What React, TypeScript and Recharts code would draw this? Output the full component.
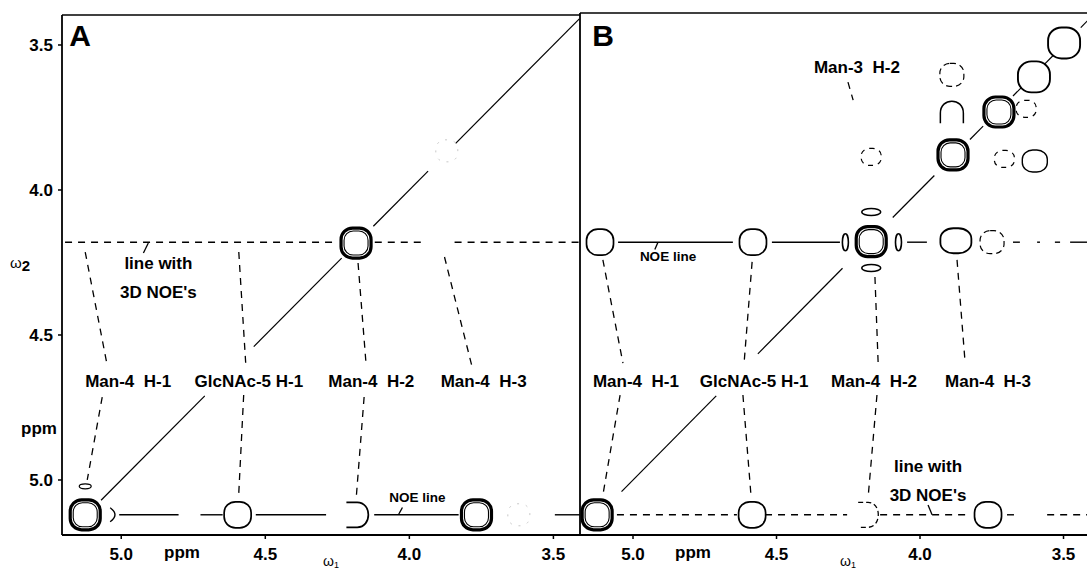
import React from 'react';
import { ScatterChart, Scatter, XAxis, YAxis, ReferenceLine } from 'recharts';

const FONT = '"Liberation Sans", Arial, Helvetica, sans-serif';

// ---------- shared tick values (ppm) ----------
const X_TICKS = [5.0, 4.5, 4.0, 3.5];
const Y_TICKS = [3.5, 4.0, 4.5, 5.0];

// ---------- Panel A ----------
const A_PEAKS = [
  { x: 5.125, y: 5.12, kind: 'bold' },
  { x: 4.596, y: 5.12, kind: 'normal' },
  { x: 4.185, y: 4.183, kind: 'bold' },
  { x: 4.181, y: 5.12, kind: 'half' },
  { x: 3.767, y: 5.12, kind: 'bold' },
  { x: 5.028, y: 5.12, kind: 'arcR' },
  { x: 5.125, y: 5.022, kind: 'small' },
  { x: 3.62, y: 5.12, kind: 'faint' },
  { x: 3.87, y: 3.865, kind: 'faint' },
];
const A_DIAG = [[5.07, 4.71], [4.54, 4.235], [4.125, 3.935], [3.86, 3.41]];
const A_SOLID_Y = 5.12;
const A_SOLID = [[5.007, 4.801], [4.725, 4.648], [4.533, 4.289], [4.122, 3.829], [3.495, 3.408]];
const A_DASH_Y = 4.18;
const A_DASH = [[5.195, 4.26], [4.12, 3.948], [3.843, 3.41]];
const A_CONNECT = [
  [5.125, 4.214, 5.049, 4.603],
  [5.066, 4.714, 5.118, 5.0],
  [4.592, 4.214, 4.568, 4.597],
  [4.575, 4.707, 4.592, 5.045],
  [4.178, 4.252, 4.15, 4.603],
  [4.157, 4.714, 4.185, 5.069],
  [3.878, 4.231, 3.784, 4.603],
];
const A_POINTERS = [[4.906, 4.183, 4.923, 4.217], [4.038, 5.12, 4.024, 5.095]];
const A_LABELS = [
  { x: 5.143, y: 3.466, text: 'A', kind: 'panel' },
  { x: 4.871, y: 4.252, text: 'line with', kind: 'label' },
  { x: 4.871, y: 4.352, text: "3D NOE's", kind: 'label' },
  { x: 4.976, y: 4.659, text: 'Man-4  H-1', kind: 'label' },
  { x: 4.557, y: 4.659, text: 'GlcNAc-5 H-1', kind: 'label' },
  { x: 4.132, y: 4.659, text: 'Man-4  H-2', kind: 'label' },
  { x: 3.742, y: 4.659, text: 'Man-4  H-3', kind: 'label' },
  { x: 3.972, y: 5.062, text: 'NOE line', kind: 'small' },
];

// ---------- Panel B ----------
const B_PEAKS = [
  { x: 5.125, y: 5.12, kind: 'bold' },
  { x: 4.585, y: 5.12, kind: 'normal' },
  { x: 4.181, y: 5.12, kind: 'halfDash' },
  { x: 3.763, y: 5.12, kind: 'normal' },
  { x: 5.115, y: 4.18, kind: 'normal' },
  { x: 4.582, y: 4.18, kind: 'normal' },
  { x: 4.17, y: 4.178, kind: 'bold' },
  { x: 4.26, y: 4.18, kind: 'lobeV' },
  { x: 4.075, y: 4.18, kind: 'lobeV' },
  { x: 4.17, y: 4.076, kind: 'lobeH' },
  { x: 4.17, y: 4.269, kind: 'lobeH' },
  { x: 3.875, y: 4.175, kind: 'dome' },
  { x: 3.749, y: 4.18, kind: 'ghost' },
  { x: 3.885, y: 3.879, kind: 'bold' },
  { x: 3.725, y: 3.731, kind: 'bold' },
  { x: 3.603, y: 3.61, kind: 'large' },
  { x: 3.498, y: 3.493, kind: 'large' },
  { x: 3.889, y: 3.603, kind: 'ghost' },
  { x: 3.889, y: 3.735, kind: 'arch' },
  { x: 3.63, y: 3.72, kind: 'ghostSmall' },
  { x: 4.17, y: 3.886, kind: 'ghostSmall' },
  { x: 3.706, y: 3.893, kind: 'ghostSmall' },
  { x: 3.6, y: 3.9, kind: 'thin' },
];
const B_DIAG = [[5.04, 4.71], [4.565, 4.27], [4.095, 3.95], [3.826, 3.78], [3.676, 3.634], [3.565, 3.537], [3.44, 3.408]];
const B_SOLID_Y = 4.18;
const B_SOLID = [[5.052, 4.652], [4.516, 4.279], [4.045, 3.976], [3.676, 3.652], [3.592, 3.582], [3.53, 3.512], [3.477, 3.408]];
const B_DASH_Y = 5.12;
const B_DASH = [[5.056, 4.638], [4.54, 4.254], [4.139, 3.833], [3.697, 3.669], [3.557, 3.408]];
const B_CONNECT = [
  [5.105, 4.241, 5.035, 4.597],
  [5.045, 4.707, 5.105, 5.052],
  [4.585, 4.248, 4.613, 4.597],
  [4.617, 4.707, 4.589, 5.052],
  [4.157, 4.3, 4.146, 4.593],
  [4.15, 4.707, 4.181, 5.062],
  [3.871, 4.241, 3.843, 4.593],
  [4.251, 3.628, 4.233, 3.69],
];
const B_POINTERS = [[4.913, 4.18, 4.924, 4.205], [3.972, 5.086, 3.958, 5.12]];
const B_LABELS = [
  { x: 5.1045, y: 3.466, text: 'B', kind: 'panel' },
  { x: 4.22, y: 3.579, text: 'Man-3  H-2', kind: 'label' },
  { x: 4.878, y: 4.231, text: 'NOE line', kind: 'small' },
  { x: 4.99, y: 4.659, text: 'Man-4  H-1', kind: 'label' },
  { x: 4.578, y: 4.659, text: 'GlcNAc-5 H-1', kind: 'label' },
  { x: 4.16, y: 4.659, text: 'Man-4  H-2', kind: 'label' },
  { x: 3.763, y: 4.659, text: 'Man-4  H-3', kind: 'label' },
  { x: 3.972, y: 4.952, text: 'line with', kind: 'label' },
  { x: 3.972, y: 5.052, text: "3D NOE's", kind: 'label' },
];

// ---------- styles ----------
const PEAK_STYLE: Record<string, any> = {
  bold: { w: 30, h: 30, sw: 3.2, shape: 'box2' },
  normal: { w: 27, h: 26, sw: 1.7, shape: 'box' },
  large: { w: 32, h: 31, sw: 1.9, shape: 'box' },
  dome: { w: 31, h: 25, sw: 1.8, shape: 'box' },
  thin: { w: 25, h: 22, sw: 1.4, shape: 'box' },
  ghost: { w: 24, h: 23, sw: 1.2, dash: '6 4', shape: 'box' },
  ghostSmall: { w: 20, h: 17, sw: 1.2, dash: '5 5', shape: 'box' },
  faint: { w: 22, h: 22, sw: 1, dash: '2 7', shape: 'box', color: '#c8c8c8' },
  half: { w: 24, h: 25, sw: 1.7, shape: 'halfR' },
  halfDash: { w: 22, h: 25, sw: 1.3, dash: '5 3', shape: 'halfR' },
  arch: { w: 23, h: 20, sw: 1.5, shape: 'arch' },
  lobeV: { w: 6, h: 17, sw: 1.6, shape: 'ellipse' },
  lobeH: { w: 19, h: 7, sw: 1.6, shape: 'ellipse' },
  small: { w: 12, h: 5, sw: 1.2, shape: 'ellipse' },
  arcR: { w: 6, h: 14, sw: 1.4, shape: 'arcR' },
};
const TEXT_SIZE: Record<string, number> = { panel: 30, label: 17, small: 13.5 };

const PeakMark = (p: any) => {
  const { cx, cy, payload } = p;
  if (cx == null || cy == null) return null;
  const k = PEAK_STYLE[payload.kind];
  const { w, h } = k;
  const stroke = k.color || '#000';
  const x0 = cx - w / 2;
  const y0 = cy - h / 2;
  if (k.shape === 'box') {
    return <rect x={x0} y={y0} width={w} height={h} rx={w * 0.42} ry={h * 0.42} fill="#fff" stroke={stroke} strokeWidth={k.sw} strokeDasharray={k.dash} />;
  }
  if (k.shape === 'box2') {
    return (
      <g>
        <rect x={x0} y={y0} width={w} height={h} rx={w * 0.38} ry={h * 0.38} fill="#fff" stroke={stroke} strokeWidth={k.sw} />
        <rect x={x0 + 3} y={y0 + 3} width={w - 6} height={h - 6} rx={(w - 6) * 0.38} ry={(h - 6) * 0.38} fill="none" stroke={stroke} strokeWidth={1.1} />
      </g>
    );
  }
  if (k.shape === 'halfR') {
    const d = `M ${cx - w * 0.45} ${y0} H ${cx} C ${cx + w * 0.62} ${y0} ${cx + w * 0.62} ${y0 + h} ${cx} ${y0 + h} H ${cx - w * 0.45}`;
    return <path d={d} fill="none" stroke={stroke} strokeWidth={k.sw} strokeDasharray={k.dash} />;
  }
  if (k.shape === 'arch') {
    const d = `M ${x0} ${y0 + h} V ${cy} C ${x0} ${y0 - h * 0.3} ${x0 + w} ${y0 - h * 0.3} ${x0 + w} ${cy} V ${y0 + h}`;
    return <path d={d} fill="none" stroke={stroke} strokeWidth={k.sw} />;
  }
  if (k.shape === 'arcR') {
    const d = `M ${x0} ${y0} Q ${x0 + w * 1.6} ${cy} ${x0} ${y0 + h}`;
    return <path d={d} fill="none" stroke={stroke} strokeWidth={k.sw} />;
  }
  return <ellipse cx={cx} cy={cy} rx={w / 2} ry={h / 2} fill="#fff" stroke={stroke} strokeWidth={k.sw} />;
};

const TextMark = (p: any) => {
  const { cx, cy, payload } = p;
  if (cx == null || cy == null) return null;
  return (
    <text x={cx} y={cy} textAnchor="middle" dominantBaseline="central" fontFamily={FONT}
      fontSize={TEXT_SIZE[payload.kind]} fontWeight={700} fill="#000" style={{ whiteSpace: 'pre' }}>
      {payload.text}
    </text>
  );
};

const fmt = (v: number) => v.toFixed(1);
const tickStyle = { fill: '#000', fontSize: 17, fontWeight: 700, fontFamily: FONT };

type PanelProps = {
  left: number; width: number; top: number; yWidth: number;
  xDomain: number[]; yDomain: number[]; showYTicks: boolean;
  peaks: any[]; diag: number[][]; solidY: number; solid: number[][];
  dashY: number; dash: number[][]; connect: number[][]; pointers: number[][]; labels: any[];
};

const Panel = (props: PanelProps) => {
  const { left, width, top, yWidth, xDomain, yDomain, showYTicks } = props;
  const lines: any[] = [];
  props.diag.forEach((r, i) => lines.push(
    <ReferenceLine key={'d' + i} segment={[{ x: r[0], y: r[0] }, { x: r[1], y: r[1] }]} stroke="#000" strokeWidth={1.2} ifOverflow="visible" />));
  props.solid.forEach((r, i) => lines.push(
    <ReferenceLine key={'s' + i} segment={[{ x: r[0], y: props.solidY }, { x: r[1], y: props.solidY }]} stroke="#000" strokeWidth={1.4} ifOverflow="visible" />));
  props.dash.forEach((r, i) => lines.push(
    <ReferenceLine key={'h' + i} segment={[{ x: r[0], y: props.dashY }, { x: r[1], y: props.dashY }]} stroke="#000" strokeWidth={1.4} strokeDasharray="7 6" ifOverflow="visible" />));
  props.connect.forEach((c, i) => lines.push(
    <ReferenceLine key={'c' + i} segment={[{ x: c[0], y: c[1] }, { x: c[2], y: c[3] }]} stroke="#000" strokeWidth={1.3} strokeDasharray="7 6" ifOverflow="visible" />));
  props.pointers.forEach((c, i) => lines.push(
    <ReferenceLine key={'p' + i} segment={[{ x: c[0], y: c[1] }, { x: c[2], y: c[3] }]} stroke="#000" strokeWidth={1.3} ifOverflow="visible" />));
  return (
    <div style={{ position: 'absolute', left, top: 0 }}>
      <ScatterChart width={width} height={572} margin={{ top, right: 0, bottom: 0, left: 0 }}>
        <XAxis type="number" dataKey="x" domain={xDomain} reversed allowDataOverflow ticks={X_TICKS} interval={0}
          tickFormatter={fmt} height={37} tickSize={4} tickMargin={9}
          axisLine={{ stroke: '#000', strokeWidth: 1.8 }} tickLine={{ stroke: '#000', strokeWidth: 1.5 }} tick={tickStyle} />
        <YAxis type="number" dataKey="y" domain={yDomain} reversed allowDataOverflow ticks={Y_TICKS} interval={0}
          tickFormatter={fmt} width={yWidth} tickSize={4} tickMargin={5}
          axisLine={{ stroke: '#000', strokeWidth: 1.8 }} tickLine={showYTicks ? { stroke: '#000', strokeWidth: 1.5 } : false}
          tick={showYTicks ? tickStyle : false} />
        <ReferenceLine y={yDomain[0]} stroke="#000" strokeWidth={1.6} ifOverflow="visible" />
        {lines}
        <Scatter data={props.peaks} shape={PeakMark} isAnimationActive={false} />
        <Scatter data={props.labels} shape={TextMark} isAnimationActive={false} />
      </ScatterChart>
    </div>
  );
};

export default function App() {
  return (
    <div style={{ position: 'absolute', left: 0, top: 0, width: 1087, height: 572, overflow: 'hidden', background: '#fff' }}>
      <Panel left={0} width={580} top={15} yWidth={62} xDomain={[3.4077, 5.2056]} yDomain={[3.3966, 5.1897]} showYTicks
        peaks={A_PEAKS} diag={A_DIAG} solidY={A_SOLID_Y} solid={A_SOLID} dashY={A_DASH_Y} dash={A_DASH}
        connect={A_CONNECT} pointers={A_POINTERS} labels={A_LABELS} />
      <Panel left={540} width={550} top={13} yWidth={40} xDomain={[3.4077, 5.1847]} yDomain={[3.3897, 5.1897]} showYTicks={false}
        peaks={B_PEAKS} diag={B_DIAG} solidY={B_SOLID_Y} solid={B_SOLID} dashY={B_DASH_Y} dash={B_DASH}
        connect={B_CONNECT} pointers={B_POINTERS} labels={B_LABELS} />
      <svg width={1087} height={572} style={{ position: 'absolute', left: 0, top: 0, pointerEvents: 'none' }}>
        <g fontFamily={FONT} fill="#000">
          <text x={10} y={268} fontSize={15}>ω<tspan fontSize={15} fontWeight={700} dy={3}>2</tspan></text>
          <text x={39} y={434} fontSize={17} fontWeight={700} textAnchor="middle">ppm</text>
          <text x={182} y={558} fontSize={17} fontWeight={700} textAnchor="middle">ppm</text>
          <text x={323} y={566} fontSize={14}>ω<tspan fontSize={9} dy={2}>1</tspan></text>
          <text x={693} y={558} fontSize={17} fontWeight={700} textAnchor="middle">ppm</text>
          <text x={840} y={566} fontSize={14}>ω<tspan fontSize={9} dy={2}>1</tspan></text>
        </g>
      </svg>
    </div>
  );
}
